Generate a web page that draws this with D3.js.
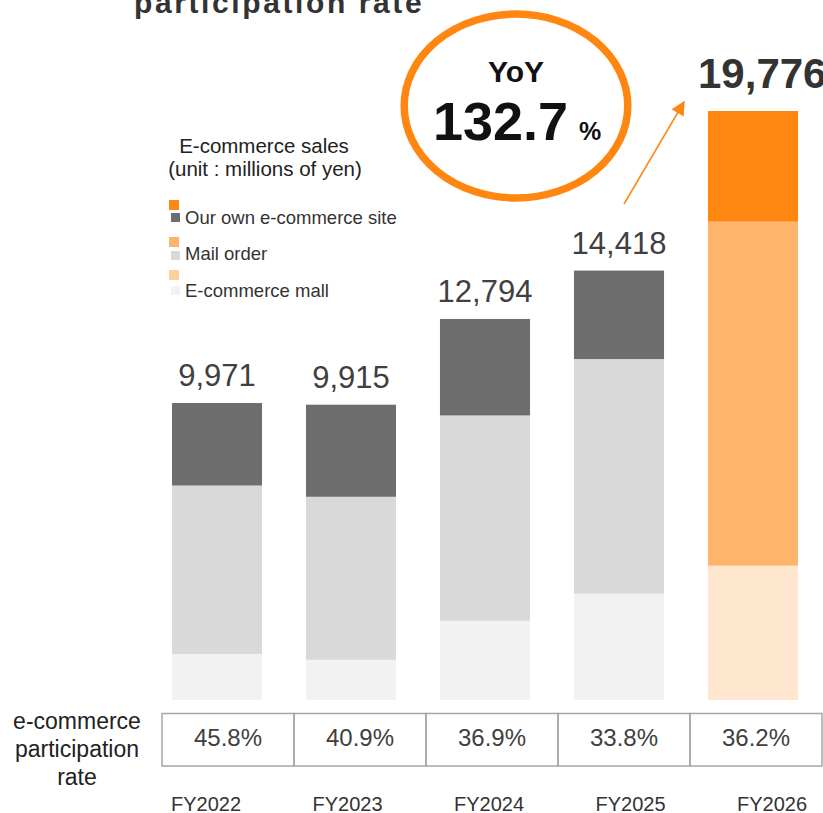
<!DOCTYPE html>
<html>
<head>
<meta charset="utf-8">
<script src="https://cdn.jsdelivr.net/npm/d3@7"></script>
<style>
  body { margin: 0; background: #fff; }
  svg { display: block; font-family: "Liberation Sans", Arial, sans-serif; }
</style>
</head>
<body>
<svg id="chart" width="823" height="813"></svg>
<script>
// chart values
const years = ["FY2022", "FY2023", "FY2024", "FY2025", "FY2026"];
const totals = [9971, 9915, 12794, 14418, 19776];
const ownSite = [2770, 3092, 3240, 2970, 3717];
const mailOrder = [5655, 5473, 6895, 7878, 11550];
const ecMall = [1546, 1350, 2659, 3570, 4509];
const rates = ["45.8%", "40.9%", "36.9%", "33.8%", "36.2%"];
const legendLabels = ["Our own e-commerce site", "Mail order", "E-commerce mall"];
const yoyText = "132.7";

const svg = d3.select("#chart");

const grayColors = { own: "#6d6d6d", mail: "#d9d9d9", mall: "#f2f2f2" };
const orangeColors = { own: "#ff8611", mail: "#ffb46c", mall: "#ffe6cf" };

// rows for the stack
const rows = years.map((y, i) => ({
  year: y, own: ownSite[i], mail: mailOrder[i], mall: ecMall[i], total: totals[i]
}));
const keys = ["mall", "mail", "own"];
const series = d3.stack().keys(keys)(rows);

const x = d3.scaleBand()
  .domain(years)
  .range([150, 820])
  .paddingInner(0.328)
  .paddingOuter(0.164);

const y = d3.scaleLinear()
  .domain([0, 19776])
  .range([700, 111]);

// bars
svg.append("g")
  .selectAll("g")
  .data(series)
  .join("g")
  .selectAll("rect")
  .data(s => s.map(d => ({ key: s.key, d: d })))
  .join("rect")
  .attr("x", p => x(p.d.data.year))
  .attr("y", p => y(p.d[1]))
  .attr("width", x.bandwidth())
  .attr("height", p => y(p.d[0]) - y(p.d[1]))
  .attr("fill", p => p.d.data.year === "FY2026" ? orangeColors[p.key] : grayColors[p.key]);

// totals above bars
svg.append("g")
  .selectAll("text")
  .data(rows)
  .join("text")
  .attr("x", d => d.year === "FY2026" ? 698 : x(d.year) + x.bandwidth() / 2)
  .attr("y", d => d.year === "FY2026" ? 88 : y(d.total) - 17)
  .attr("text-anchor", d => d.year === "FY2026" ? "start" : "middle")
  .attr("font-size", d => d.year === "FY2026" ? 42 : 31)
  .attr("font-weight", d => d.year === "FY2026" ? "bold" : "normal")
  .attr("fill", d => d.year === "FY2026" ? "#333" : "#404040")
  .text(d => d3.format(",")(d.total));

// title (cut off at the top)
svg.append("text")
  .attr("x", 134).attr("y", 13)
  .attr("font-size", 30).attr("font-weight", "bold")
  .attr("letter-spacing", 2.6)
  .attr("fill", "#333")
  .text("participation rate");

// legend
const legend = svg.append("g");
legend.append("text").attr("x", 264).attr("y", 153)
  .attr("text-anchor", "middle").attr("font-size", 20.5).attr("fill", "#222")
  .text("E-commerce sales");
legend.append("text").attr("x", 265).attr("y", 176)
  .attr("text-anchor", "middle").attr("font-size", 20.5).attr("fill", "#222")
  .text("(unit : millions of yen)");

const legOrange = ["#ff8611", "#ffb46c", "#ffcf9e"];
const legGray = [grayColors.own, grayColors.mail, grayColors.mall];
const legTop = [200, 237, 270];
const legItems = legend.selectAll("g")
  .data(legendLabels)
  .join("g")
  .attr("transform", (d, i) => `translate(0,${legTop[i]})`);
legItems.append("rect")
  .attr("x", 169).attr("y", 0).attr("width", 10).attr("height", 10)
  .attr("fill", (d, i) => legOrange[i]);
legItems.append("rect")
  .attr("x", 171).attr("y", (d, i) => i === 0 ? 13 : 14 + (i === 2 ? 2 : 0))
  .attr("width", 9).attr("height", 9)
  .attr("fill", (d, i) => legGray[i]);
legItems.append("text")
  .attr("x", 185).attr("y", (d, i) => i === 2 ? 27 : 24 - (i === 1 ? 1 : 0))
  .attr("font-size", 18.5).attr("fill", "#333")
  .text(d => d);

// YoY ellipse
svg.append("ellipse")
  .attr("cx", 516).attr("cy", 106)
  .attr("rx", 111.8).attr("ry", 92)
  .attr("fill", "none").attr("stroke", "#ff8611").attr("stroke-width", 7.5);
svg.append("text").attr("x", 516).attr("y", 82)
  .attr("text-anchor", "middle").attr("font-size", 30).attr("font-weight", "bold")
  .attr("fill", "#111").text("YoY");
svg.append("text").attr("x", 433).attr("y", 140)
  .attr("font-size", 54).attr("font-weight", "bold")
  .attr("fill", "#111").text(yoyText);
svg.append("text").attr("x", 579).attr("y", 140)
  .attr("font-size", 25).attr("font-weight", "bold")
  .attr("fill", "#111").text("%");

// arrow
svg.append("defs").append("marker")
  .attr("id", "head")
  .attr("viewBox", "0 0 10 10")
  .attr("refX", 9).attr("refY", 5)
  .attr("markerWidth", 16).attr("markerHeight", 14)
  .attr("markerUnits", "userSpaceOnUse")
  .attr("orient", "auto")
  .append("path").attr("d", "M0,0L10,5L0,10Z").attr("fill", "#ff8611");
svg.append("line")
  .attr("x1", 624).attr("y1", 204).attr("x2", 684).attr("y2", 102)
  .attr("stroke", "#ff8611").attr("stroke-width", 1.5)
  .attr("marker-end", "url(#head)");

// rate table
const tx = d3.scaleBand().domain(years).range([162, 822]);
const table = svg.append("g");
table.selectAll("rect")
  .data(years)
  .join("rect")
  .attr("x", d => tx(d)).attr("y", 713.5)
  .attr("width", tx.bandwidth()).attr("height", 52.5)
  .attr("fill", "none").attr("stroke", "#a6a6a6").attr("stroke-width", 1.5);
table.selectAll("text")
  .data(rates)
  .join("text")
  .attr("x", (d, i) => tx(years[i]) + tx.bandwidth() / 2)
  .attr("y", 746)
  .attr("text-anchor", "middle").attr("font-size", 24).attr("fill", "#404040")
  .text(d => d);

svg.append("g")
  .selectAll("text")
  .data(["e-commerce", "participation", "rate"])
  .join("text")
  .attr("x", 77)
  .attr("y", (d, i) => 729 + i * 28)
  .attr("text-anchor", "middle").attr("font-size", 23).attr("fill", "#222")
  .text(d => d);

// year labels
const fx = d3.scalePoint().domain(years).range([206, 772]);
svg.append("g")
  .selectAll("text")
  .data(years)
  .join("text")
  .attr("x", d => fx(d)).attr("y", 811)
  .attr("text-anchor", "middle").attr("font-size", 20).attr("fill", "#333")
  .text(d => d);
</script>
</body>
</html>
